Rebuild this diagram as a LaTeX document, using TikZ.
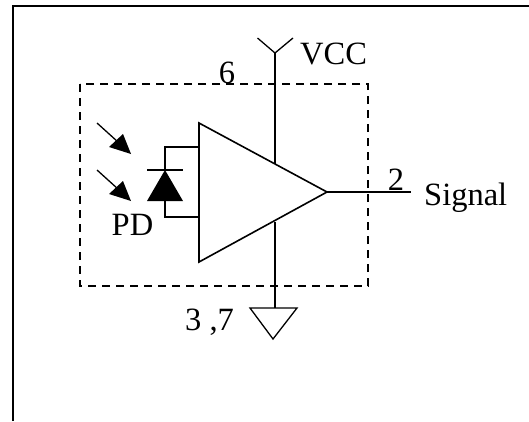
\documentclass[tikz,border=0pt]{standalone}
\usepackage{fontspec}
\setmainfont{Liberation Serif}
\begin{document}
\begin{tikzpicture}[x=1pt,y=-1pt,
  wire/.style={line width=1.6pt,line join=miter},
  thin wire/.style={line width=1.3pt},
  dash box/.style={line width=1.3pt,dash pattern=on 8pt off 6pt},
  lbl/.style={inner sep=0pt,font=\fontsize{32.5}{33}\selectfont,text=black},
  tip/.style={fill=black,draw=none}]
\useasboundingbox (0,0) rectangle (529,421);
% outer frame
\coordinate (fa) at (13,421); \coordinate (fb) at (13,6); \coordinate (fc) at (529,6);
\draw[wire] (fa) -- (fb) -- (fc);
% dashed module box
\draw[dash box] (80,84) rectangle (368,286);
% amplifier
\coordinate (a1) at (199,123); \coordinate (a2) at (199,262); \coordinate (a3) at (327,192);
\draw[wire] (a1) -- (a2) -- (a3) -- cycle;
% VCC
\coordinate (v0) at (275,164); \coordinate (v1) at (275,53);
\draw[wire] (v0) -- (v1);
\draw[thin wire] (257.5,38) -- (v1) -- (293,38);
% ground
\coordinate (g0) at (275,222); \coordinate (g1) at (275,308);
\draw[wire] (g0) -- (g1);
\draw[thin wire] (250,308) -- (297,308) -- (273,339) -- cycle;
% output
\coordinate (o1) at (411,192);
\draw[wire] (a3) -- (o1);
% photodiode
\coordinate (d1) at (165,170); \coordinate (d2) at (165,201);
\draw[wire] (199,147) -- (165,147) -- (d1);
\draw[wire] (d2) -- (165,217) -- (199,217);
\draw[thin wire] (147,170) -- (183,170);
\fill (d1) -- (183,201) -- (147,201) -- cycle;
% light arrows
\draw[thin wire] (97,123) -- (118,142);
\fill[tip] (131,154) -- (109,147) -- (123,134) -- cycle;
\draw[thin wire] (97,170) -- (118,189);
\fill[tip] (131,201) -- (109,194) -- (123,181) -- cycle;
% labels
\node[lbl,anchor=base] (l6) at (227,83) {6};
\node[lbl,anchor=base west] (lv) at (300,64) {VCC};
\node[lbl,anchor=base] (l2) at (396,190) {2};
\node[lbl,anchor=base west] (ls) at (424,205) {Signal};
\node[lbl,anchor=base] (lp) at (132.5,235) {PD};
\node[lbl,anchor=base west] (l3) at (185,330) {3 ,7};
\end{tikzpicture}
\end{document}
